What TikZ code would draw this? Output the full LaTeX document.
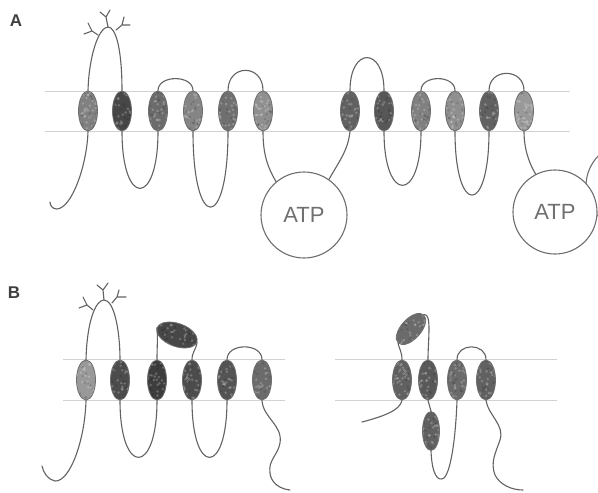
\documentclass[tikz,border=0pt]{standalone}
\usepackage{fontspec}
\setmainfont{Liberation Sans}
\usetikzlibrary{shapes.geometric}
\definecolor{chain}{HTML}{626262}
\definecolor{membrane}{HTML}{D2D2D2}
\definecolor{rim}{HTML}{6E6E6E}
\definecolor{labelgray}{HTML}{707070}
\pgfmathsetseed{7}
\begin{document}
\begin{tikzpicture}[x=1pt,y=-1pt,
  mottle/.style={path picture={
      \foreach \k in {1,...,70}{
        \pgfmathsetmacro\px{rand*22}\pgfmathsetmacro\py{rand*22}
        \fill[white,opacity=0.22] ([shift={(\px,\py)}]path picture bounding box.center) circle (1.4pt);
      }
      \foreach \k in {1,...,40}{
        \pgfmathsetmacro\px{rand*22}\pgfmathsetmacro\py{rand*22}
        \fill[black,opacity=0.15] ([shift={(\px,\py)}]path picture bounding box.center) circle (1.2pt);
      }}},
  helix/.style={ellipse, draw=rim, line width=0.8pt, fill=black!#1, mottle,
                minimum width=19pt, minimum height=40pt, inner sep=0pt},
  domain/.style={ellipse, draw=rim, line width=0.8pt, fill=black!#1, mottle,
                inner sep=0pt},
  strand/.style={draw=chain, line width=1.1pt, line cap=round},
  bilayer/.style={draw=membrane, line width=1pt},
  nbd/.style={circle, draw=rim, line width=1.1pt, fill=white, inner sep=0pt,
              text=labelgray, font=\fontsize{22}{22}\selectfont},
  panel/.style={text=black!75, font=\bfseries\fontsize{17}{17}\selectfont, inner sep=0pt}]
\useasboundingbox (0,0) rectangle (598,493);
\clip (0,0) rectangle (598,493);

% ---------- panel labels
\node[panel] (labA) at (16,21) {A};
\node[panel] (labB) at (14,293) {B};

% ================= A: full transporter, two halves =================
\draw[bilayer] (45,91) -- (570,91);
\draw[bilayer] (45,131) -- (570,131);

\node[helix=50] (a1) at (88,111) {};
\node[helix=72] (a2) at (122,111) {};
\node[helix=58] (a3) at (158,111) {};
\node[helix=48] (a4) at (193,111) {};
\node[helix=56] (a5) at (228,111) {};
\node[helix=44] (a6) at (263,111) {};
\node[helix=62] (a7) at (350,111) {};
\node[helix=66] (a8) at (384,111) {};
\node[helix=50] (a9) at (421,111) {};
\node[helix=44] (a10) at (455,111) {};
\node[helix=62] (a11) at (489,111) {};
\node[helix=40] (a12) at (524,111) {};

% nucleotide binding domains
\node[nbd, minimum size=86pt] (atp3) at (629,186) {};
\node[nbd, minimum size=86pt] (atp1) at (304,215) {ATP};
\node[nbd, minimum size=84pt] (atp2) at (555,212) {ATP};

% N terminus
\coordinate (nA) at (50,202);
\draw[strand] (a1.south) .. controls (87,165) and (72,208) .. (57,209)
              .. controls (52,209) and (50,205) .. (nA);
% glycosylated loop
\coordinate (gA) at (108,27);
\draw[strand] (a1.north) .. controls (89,55) and (99,27) .. (gA)
              .. controls (116,27) and (122,50) .. (a2.north);
\draw[strand] (98,35) -- (92,31) -- (84,34) (92,31) -- (88,23);
\draw[strand] (gA) -- (106,17) -- (100,12) (106,17) -- (110,10);
\draw[strand] (116,30) -- (122,25) -- (130,25) (122,25) -- (124,17);
% remaining loops, first half
\draw[strand] (a2.south) .. controls +(0,76) and +(0,76) .. (a3.south);
\draw[strand] (a3.north) .. controls +(0,-16) and +(0,-16) .. (a4.north);
\draw[strand] (a4.south) .. controls +(0,101) and +(0,101) .. (a5.south);
\draw[strand] (a5.north) .. controls +(0,-27) and +(0,-27) .. (a6.north);
\draw[strand] (a6.south) .. controls (263,155) and (268,168) .. (atp1.130);
% linker into second half
\draw[strand] (atp1.55) .. controls (340,160) and (348,150) .. (a7.south);
\draw[strand] (a7.north) .. controls +(0,-44) and +(0,-44) .. (a8.north);
\draw[strand] (a8.south) .. controls +(0,72) and +(0,72) .. (a9.south);
\draw[strand] (a9.north) .. controls +(0,-16) and +(0,-16) .. (a10.north);
\draw[strand] (a10.south) .. controls +(0,85) and +(0,85) .. (a11.south);
\draw[strand] (a11.north) .. controls +(0,-23) and +(0,-23) .. (a12.north);
\draw[strand] (a12.south) .. controls (524,150) and (530,165) .. (atp2.117);

% ================= B: left molecule =================
\draw[bilayer] (63,359) -- (285,359);
\draw[bilayer] (63,400) -- (285,400);

\node[helix=40] (b1) at (86,380) {};
\node[helix=70] (b2) at (120,380) {};
\node[helix=76] (b3) at (157,380) {};
\node[helix=70] (b4) at (192,380) {};
\node[helix=67] (b5) at (227,380) {};
\node[helix=58] (b6) at (262,380) {};
\node[domain=72, minimum width=42pt, minimum height=23pt, rotate=-20] (s1) at (177,335) {};

\coordinate (nB) at (42,466);
\draw[strand] (b1.south) .. controls (85,440) and (70,482) .. (55,481)
              .. controls (48,480) and (43,472) .. (nB);
\coordinate (gB) at (104,300);
\draw[strand] (b1.north) .. controls (87,320) and (96,300) .. (gB)
              .. controls (114,300) and (120,330) .. (b2.north);
\draw[strand] (93,310) -- (87,305) -- (79,308) (87,305) -- (83,297);
\draw[strand] (gB) -- (103,290) -- (97,285) (103,290) -- (108,283);
\draw[strand] (112,303) -- (117,297) -- (126,297) (117,297) -- (119,290);
\draw[strand] (b2.south) .. controls +(0,76) and +(0,76) .. (b3.south);
\draw[strand] (b3.north) .. controls (157,345) and (158,338) .. (s1.west);
\draw[strand] (s1.east) .. controls (196,350) and (192,352) .. (b4.north);
\draw[strand] (b4.south) .. controls +(0,76) and +(0,76) .. (b5.south);
\draw[strand] (b5.north) .. controls +(0,-17) and +(0,-17) .. (b6.north);
\coordinate (cB) at (290,490);
\draw[strand] (b6.south) .. controls (263,418) and (283,425) .. (280,443)
              .. controls (278,455) and (268,460) .. (270,473)
              .. controls (271,483) and (280,489) .. (cB);

% ================= B: right molecule =================
\draw[bilayer] (335,359) -- (557,359);
\draw[bilayer] (335,400) -- (557,400);

\node[helix=62] (c1) at (402,380) {};
\node[helix=65] (c2) at (428,380) {};
\node[helix=58] (c3) at (457,380) {};
\node[helix=62] (c4) at (486,380) {};
\node[domain=58, minimum width=38pt, minimum height=20pt, rotate=48] (s2) at (411,329) {};
\node[helix=62, minimum width=17pt, minimum height=39pt] (d1) at (431,431) {};

\coordinate (nC) at (362,422);
\draw[strand] (c1.south) .. controls (400,410) and (385,416) .. (nC);
\draw[strand] (c1.north) .. controls (402,352) and (399,348) .. (s2.west);
\draw[strand] (s2.east) .. controls (432,313) and (428,340) .. (c2.north);
\draw[strand] (c2.south) -- (d1.north);
\draw[strand] (d1.south) .. controls (432,475) and (438,482) .. (444,478)
              .. controls (452,470) and (456,430) .. (c3.south);
\draw[strand] (c3.north) .. controls +(0,-17) and +(0,-17) .. (c4.north);
\coordinate (cC) at (523,490);
\draw[strand] (c4.south) .. controls (488,415) and (505,425) .. (500,440)
              .. controls (496,452) and (490,462) .. (495,475)
              .. controls (500,485) and (512,490) .. (cC);
\end{tikzpicture}
\end{document}
